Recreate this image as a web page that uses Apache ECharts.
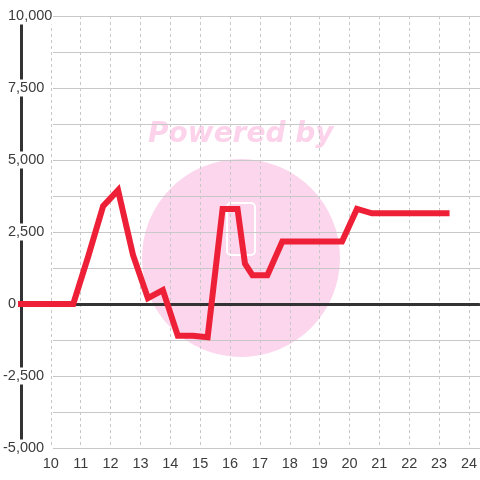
<!DOCTYPE html>
<html>
<head>
<meta charset="utf-8">
<script src="https://cdn.jsdelivr.net/npm/echarts@6/dist/echarts.min.js"></script>
<style>
  html, body { margin: 0; padding: 0; background: #fff; }
  #chart-container { width: 480px; height: 480px; }
</style>
</head>
<body>
<div id="chart-container"></div>
<script>
// hours of the day (x) and running value (y)
const hours = [9, 10.75, 11.25, 11.75, 12.25, 12.75, 13.25, 13.75, 14.25, 14.75, 15.25,
    15.75, 16.25, 16.5, 16.75, 17.25, 17.75, 19.75, 20.25, 20.75, 23.25];
const values = [0, 0, 1650, 3400, 3950, 1700, 200, 480, -1100, -1100, -1150,
    3300, 3300, 1400, 1000, 1000, 2170, 2170, 3300, 3150, 3150];

const xMin = 9, xMax = 24.3333, xStep = 1;
const yMin = -5000, yMax = 10000, yStep = 1250, yLabelStep = 2500;

const textColor = '#3c3c3c';
const font = 'Liberation Sans';

var chartDom = document.getElementById('chart-container');
var myChart = echarts.init(chartDom);

// y labels: positive ones start at x=7, the minus sign hangs out to the left
function yLabel(keep, margin) {
    return {
        align: 'left', margin: margin,
        color: textColor, fontFamily: font, fontSize: 14.5,
        backgroundColor: '#ffffff', padding: [2, 0, 0, 0],
        formatter: (v) => (v % yLabelStep === 0 && keep(v)) ? v.toLocaleString('en-US') : ''
    };
}

var option = {
    backgroundColor: '#ffffff',
    animation: false,
    graphic: [
        {
            type: 'circle',
            z: -10,
            silent: true,
            shape: { cx: 241, cy: 258, r: 99 },
            style: { fill: '#fcd6ec' }
        },
        {
            type: 'rect',
            z: -9,
            silent: true,
            shape: { x: 227, y: 203, width: 28, height: 52, r: 4 },
            style: { fill: 'none', stroke: '#ffffff', lineWidth: 2 }
        },
        {
            type: 'text',
            z: -10,
            silent: true,
            x: 148, y: 121,
            style: {
                text: 'Powered by',
                fill: '#fcd3ea',
                font: 'italic bold 28px "DejaVu Sans"'
            }
        }
    ],
    grid: [
        { left: 20, right: 0, top: 16, bottom: 32 },
        { left: 53, right: 0, top: 16, bottom: 32 }
    ],
    xAxis: [
        {
            gridIndex: 0,
            type: 'value',
            min: xMin, max: xMax, interval: xStep,
            axisLine: { show: false, onZero: false },
            axisTick: { show: false },
            axisLabel: {
                color: textColor, fontFamily: font, fontSize: 14.5, margin: 8,
                showMinLabel: false, showMaxLabel: false,
                formatter: (v) => Number.isInteger(v) ? String(v) : ''
            },
            splitLine: {
                show: true, showMinLine: false, showMaxLine: false,
                lineStyle: { color: '#c8c8c8', type: [3, 3], width: 1 }
            }
        },
        {
            gridIndex: 1,
            type: 'value', min: 0, max: 1,
            show: false
        },
        {
            // zero line
            gridIndex: 0,
            type: 'value',
            min: xMin, max: xMax,
            axisLine: { show: true, onZero: true, lineStyle: { color: '#333', width: 3 } },
            axisTick: { show: false },
            axisLabel: { show: false },
            splitLine: { show: false }
        }
    ],
    yAxis: [
        {
            gridIndex: 0,
            type: 'value',
            position: 'left',
            min: yMin, max: yMax, interval: yStep,
            axisLine: { show: true, onZero: false, lineStyle: { color: '#333', width: 3 } },
            axisTick: { show: false },
            splitLine: { show: false },
            axisLabel: yLabel((v) => v >= 0, 13)
        },
        {
            gridIndex: 1,
            type: 'value',
            min: yMin, max: yMax, interval: yStep,
            axisLine: { show: false },
            axisTick: { show: false },
            axisLabel: { show: false },
            splitLine: { show: true, lineStyle: { color: '#c8c8c8', width: 1 } }
        },
        {
            gridIndex: 0,
            type: 'value',
            position: 'left',
            offset: 0,
            min: yMin, max: yMax, interval: yStep,
            axisLine: { show: false, onZero: false },
            axisTick: { show: false },
            splitLine: { show: false },
            axisLabel: yLabel((v) => v < 0, 18)
        }
    ],
    series: [
        {
            type: 'line',
            xAxisIndex: 0,
            yAxisIndex: 0,
            data: hours.map((h, i) => [h, values[i]]),
            showSymbol: false,
            lineStyle: { color: '#ee2037', width: 6, cap: 'square', join: 'miter' }
        }
    ]
};

option && myChart.setOption(option);
</script>
</body>
</html>
